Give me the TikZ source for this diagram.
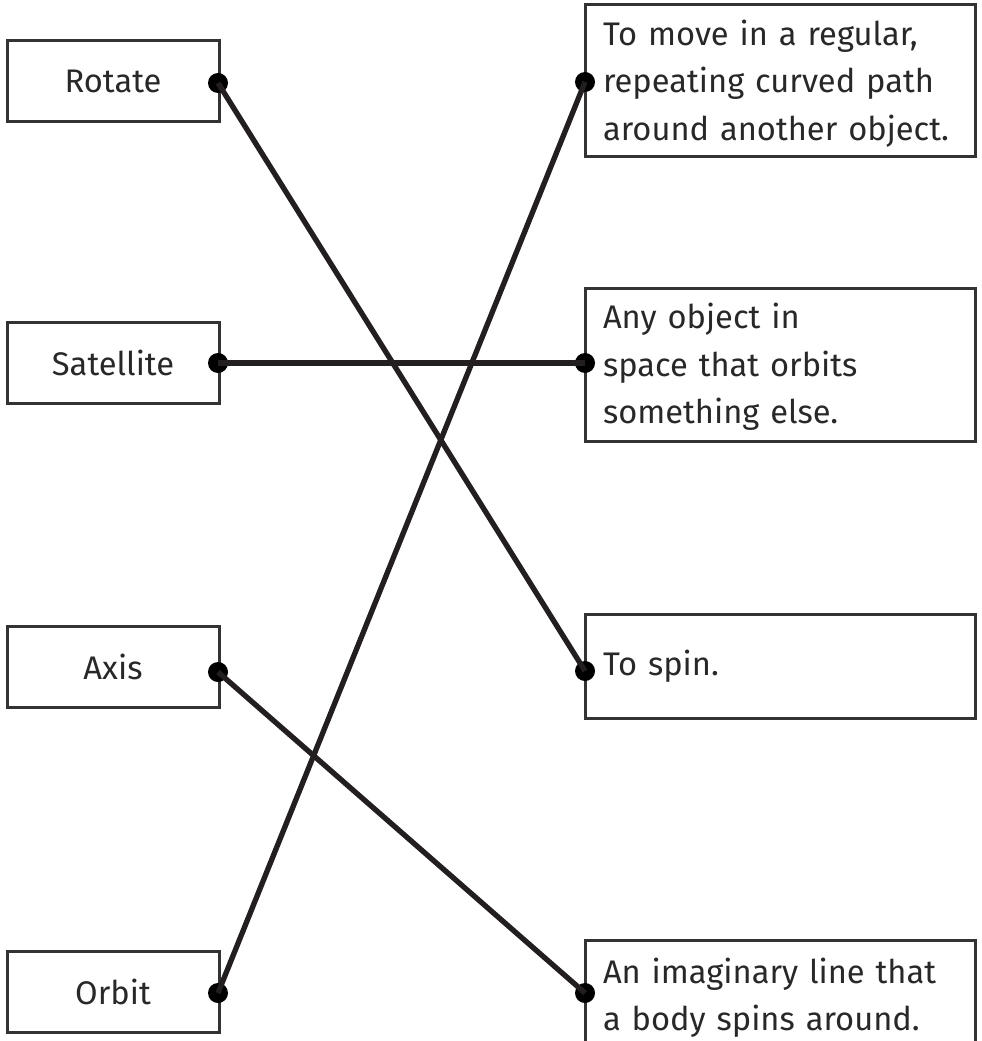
\documentclass[tikz,border=0pt]{standalone}
\usepackage{fontspec}
\setmainfont{Fira Sans}
\definecolor{boxgray}{RGB}{51,51,51}
\definecolor{inkgray}{RGB}{40,40,40}
\definecolor{linkblack}{RGB}{35,31,32}

\tikzset{every picture/.style={line width=0.75pt}}
\tikzset{
  termbox/.style={draw=boxgray, line width=2.25pt, minimum width=159pt, minimum height=60.75pt, inner sep=0pt, text=inkgray, font=\fontsize{24.5}{35.6}\selectfont},
  defbox/.style={draw=boxgray, line width=2.25pt, text width=265.5pt, inner xsep=13.5pt, inner ysep=0pt, align=left, text=inkgray, font=\fontsize{24.5}{35.6}\selectfont},
  blob/.style={circle, fill=black, inner sep=0pt, minimum size=15pt},
  link/.style={draw=linkblack, line width=4pt}
}

\begin{document}
\begin{tikzpicture}[x=0.75pt,y=0.75pt,yscale=-1,xscale=1]
\useasboundingbox (0,0) rectangle (981,1041);

% Word boxes
\node[termbox] (rotate) at (113,81) {Rotate};
\node[termbox] (satellite) at (113,362.5) {Satellite};
\node[termbox] (axis) at (113,666.5) {Axis};
\node[termbox] (orbit) at (113,992) {Orbit};

% Meaning boxes
\node[defbox, minimum height=114pt] (moveDef) at (780,81) {\rule{0pt}{23pt}To move in a regular,\\repeating curved path\\around another object.};
\node[defbox, minimum height=114.75pt] (objectDef) at (780,364.5) {\rule{0pt}{23pt}Any object in\\space that orbits\\something else.};
\node[defbox, minimum height=78pt] (spinDef) at (780,666) {To spin.};
\node[defbox, minimum height=82.5pt] (lineDef) at (780,995) {\rule{0pt}{23pt}An imaginary line that\\a body spins around.};

% Dots
\node[blob] (rotateDot) at (218,83) {};
\node[blob] (satelliteDot) at (218,363) {};
\node[blob] (axisDot) at (218,672) {};
\node[blob] (orbitDot) at (218,993) {};
\node[blob] (moveDot) at (585,82) {};
\node[blob] (objectDot) at (585,363) {};
\node[blob] (spinDot) at (585,671) {};
\node[blob] (lineDot) at (585,993) {};

% Matching lines
\draw[link] (rotateDot.center) -- (spinDot.center);
\draw[link] (satelliteDot.center) -- (objectDot.center);
\draw[link] (axisDot.center) -- (lineDot.center);
\draw[link] (orbitDot.center) -- (moveDot.center);

\end{tikzpicture}
\end{document}
